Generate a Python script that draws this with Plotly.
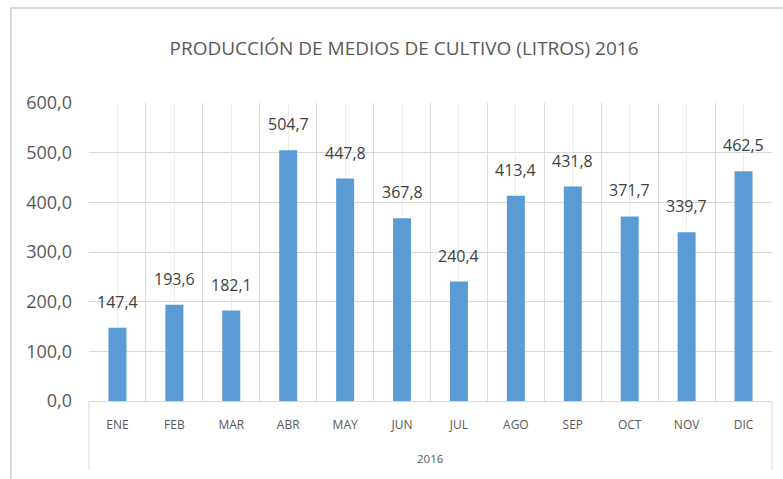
import plotly.graph_objects as go

months = ["ENE", "FEB", "MAR", "ABR", "MAY", "JUN", "JUL", "AGO", "SEP", "OCT", "NOV", "DIC"]
values = [147.4, 193.6, 182.1, 504.7, 447.8, 367.8, 240.4, 413.4, 431.8, 371.7, 339.7, 462.5]
year_label = "2016"
title = "PRODUCCIÓN DE MEDIOS DE CULTIVO (LITROS) 2016"
y_ticks = [0, 100, 200, 300, 400, 500, 600]

FONT = "Open Sans, sans-serif"
GRID = "#d9d9d9"

fig = go.Figure()
fig.add_trace(go.Bar(
    x=months, y=values,
    marker=dict(color="#5b9bd5", line=dict(width=0)),
    xaxis="x", yaxis="y", hoverinfo="x+y",
))
# invisible trace on overlay axis for center gridlines
fig.add_trace(go.Bar(x=months, y=[None] * len(months), xaxis="x2", yaxis="y",
                     showlegend=False, hoverinfo="skip"))

# data labels above each bar
for m, v in zip(months, values):
    fig.add_annotation(x=m, y=v, xref="x", yref="y",
                       text=f"{v:.1f}".replace(".", ","),
                       showarrow=False, yanchor="middle", yshift=26,
                       font=dict(family=FONT, size=16, color="#404040"))

fig.update_layout(
    width=783, height=479,
    margin=dict(l=89, r=11, t=103, b=78),
    paper_bgcolor="white", plot_bgcolor="white",
    separators=",.",
    showlegend=False,
    bargap=0.684,
    title=dict(text=title, x=404 / 783, xref="container", xanchor="center",
               y=1 - 48 / 479, yanchor="middle", yref="container",
               font=dict(family=FONT, size=19, color="#595959")),
    xaxis=dict(type="category", categoryorder="array", categoryarray=months,
               tickson="boundaries", showgrid=True, gridcolor=GRID, gridwidth=1,
               showline=True, linecolor=GRID, linewidth=1, ticks="",
               tickfont=dict(family=FONT, size=12, color="#595959"),
               ticklabelstandoff=13, zeroline=False),
    xaxis2=dict(type="category", categoryorder="array", categoryarray=months,
                overlaying="x", matches="x", showgrid=True, gridcolor="#ececec",
                showticklabels=False, ticks="", showline=False, zeroline=False),
    yaxis=dict(range=[0, 600], tickvals=y_ticks, tickformat=".1f",
               showgrid=True, gridcolor=GRID, gridwidth=1, zeroline=False,
               showline=False, ticks="",
               tickfont=dict(family=FONT, size=18, color="#595959"),
               ticklabelstandoff=16),
)

# "2016" group label and its box sides below the axis
fig.add_annotation(text=year_label, x=0.5, xref="paper", y=-57 / 298, yref="paper",
                   showarrow=False, yanchor="middle",
                   font=dict(family=FONT, size=11.5, color="#595959"))
for xp in (0, 1):
    fig.add_shape(type="line", xref="paper", yref="paper", x0=xp, x1=xp,
                  y0=0, y1=-69 / 298, line=dict(color=GRID, width=1))

# outer chart border (top and left visible)
fig.add_shape(type="line", xref="paper", yref="paper",
              x0=-78 / 683, x1=694 / 683, y0=1 + 95 / 298, y1=1 + 95 / 298,
              line=dict(color="#d9d9d9", width=2))
fig.add_shape(type="line", xref="paper", yref="paper",
              x0=-78 / 683, x1=-78 / 683, y0=1 + 95 / 298, y1=-80 / 298,
              line=dict(color="#d9d9d9", width=2))

fig.write_html("out.html", config={"displayModeBar": False},
               post_script="document.body.style.margin='0px';")
